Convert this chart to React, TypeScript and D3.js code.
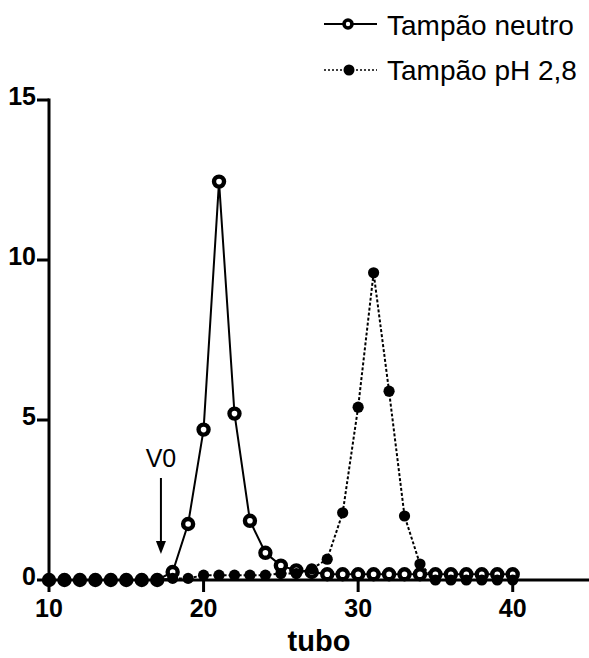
import React from "react";
import * as d3 from "d3";

const tubes = [10, 11, 12, 13, 14, 15, 16, 17, 18, 19, 20, 21, 22, 23, 24, 25, 26, 27, 28, 29, 30, 31, 32, 33, 34, 35, 36, 37, 38, 39, 40];
const neutro = [0, 0, 0, 0, 0, 0, 0, 0, 0.25, 1.75, 4.7, 12.45, 5.2, 1.85, 0.85, 0.45, 0.3, 0.25, 0.18, 0.18, 0.18, 0.18, 0.18, 0.18, 0.18, 0.18, 0.18, 0.18, 0.18, 0.18, 0.18];
const acido = [0, 0, 0, 0, 0, 0, 0, 0, 0.05, 0.05, 0.15, 0.15, 0.15, 0.15, 0.15, 0.2, 0.2, 0.35, 0.65, 2.1, 5.4, 9.6, 5.9, 2.0, 0.5, 0, 0, 0, 0, 0, 0];
const xTicks = [10, 20, 30, 40];
const yTicks = [0, 5, 10, 15];
const seriesNames = ["Tampão neutro", "Tampão pH 2,8"];
const xLabel = "tubo";
const annotationLabel = "V0";
const annotationX = 17.5;

const W = 589;
const H = 658;
const FONT = "'Liberation Sans', Arial, Helvetica, sans-serif";

export default function App() {
  const x = d3.scaleLinear().domain([10, 45]).range([49, 590]);
  const y = d3.scaleLinear().domain([0, 15]).range([580, 100]);

  const line = d3
    .line<[number, number]>()
    .x((d) => x(d[0]))
    .y((d) => y(d[1]));

  const nData: [number, number][] = tubes.map((t, i) => [t, neutro[i]]);
  const aData: [number, number][] = tubes.map((t, i) => [t, acido[i]]);

  const ax = x(annotationX) - 4;

  return (
    <svg
      width={W}
      height={H}
      style={{ position: "absolute", left: 0, top: 0, background: "#fff" }}
      fontFamily={FONT}
    >
      <rect x={0} y={0} width={W} height={H} fill="#fff" />
      {/* lines */}
      <path d={line(nData) || ""} fill="none" stroke="#000" strokeWidth={2} />
      <path d={line(aData) || ""} fill="none" stroke="#000" strokeWidth={2} strokeDasharray="3,2" />
      {/* neutral markers */}
      {nData.map((d, i) => (
        <circle key={"n" + i} cx={x(d[0])} cy={y(d[1])} r={5} fill="#fff" stroke="#000" strokeWidth={4.4} />
      ))}
      {/* pH markers */}
      {aData.map((d, i) => (
        <circle key={"a" + i} cx={x(d[0])} cy={y(d[1])} r={5.6} fill="#000" />
      ))}

      {/* axes */}
      <line x1={x(10)} x2={W} y1={y(0)} y2={y(0)} stroke="#000" strokeWidth={3} />
      <line x1={x(10)} x2={x(10)} y1={y(15) - 1.5} y2={y(0)} stroke="#000" strokeWidth={3} />
      {xTicks.map((t) => (
        <g key={"xt" + t}>
          <line x1={x(t)} x2={x(t)} y1={y(0)} y2={y(0) + 12} stroke="#000" strokeWidth={3} />
          <text x={x(t)} y={617} textAnchor="middle" fontSize={25} fontWeight="bold">
            {t}
          </text>
        </g>
      ))}
      {yTicks.map((t) => (
        <g key={"yt" + t}>
          <line x1={x(10) - 12} x2={x(10)} y1={y(t)} y2={y(t)} stroke="#000" strokeWidth={3} />
          <text x={36} y={y(t) + 5} textAnchor="end" fontSize={25} fontWeight="bold">
            {t}
          </text>
        </g>
      ))}
      <text x={319} y={651} textAnchor="middle" fontSize={29} fontWeight="bold">
        {xLabel}
      </text>

      {/* V0 annotation */}
      <text x={ax} y={467} textAnchor="middle" fontSize={25}>
        {annotationLabel}
      </text>
      <line x1={ax} x2={ax} y1={478} y2={545} stroke="#000" strokeWidth={2} />
      <path d={`M${ax - 5},${541} L${ax + 5},${541} L${ax},${554} Z`} fill="#000" />

      {/* legend */}
      <g>
        <line x1={324} x2={377} y1={24} y2={24} stroke="#000" strokeWidth={2} />
        <circle cx={348} cy={24} r={4} fill="#fff" stroke="#000" strokeWidth={3.6} />
        <text x={387} y={35} fontSize={28}>
          {seriesNames[0]}
        </text>
        <line x1={324} x2={377} y1={70} y2={70} stroke="#000" strokeWidth={1.6} strokeDasharray="2,2" />
        <circle cx={349} cy={70} r={5.5} fill="#000" />
        <text x={387} y={80} fontSize={28}>
          {seriesNames[1]}
        </text>
      </g>
    </svg>
  );
}
